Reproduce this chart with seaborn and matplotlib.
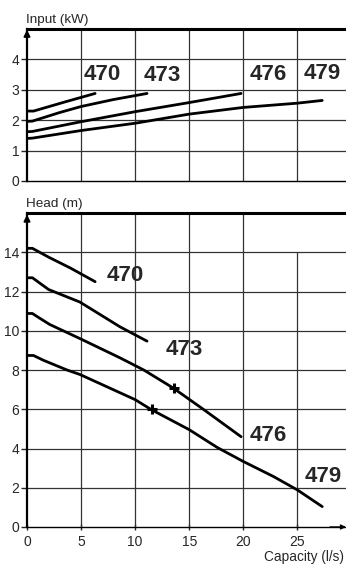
import numpy as np
import pandas as pd
import matplotlib
matplotlib.use('Agg')
import matplotlib.pyplot as plt
import seaborn as sns

# 数据
models = ['470', '473', '476', '479']

# Input (kW) 曲线
q_in_470 = [0, 0.6, 3.5, 6.3]
p_in_470 = [2.3, 2.3, 2.6, 2.88]
q_in_473 = [0, 0.5, 3, 5, 8, 11.1]
p_in_473 = [1.96, 1.97, 2.25, 2.45, 2.68, 2.88]
q_in_476 = [0, 0.5, 5, 10, 15, 19.8]
p_in_476 = [1.62, 1.63, 1.95, 2.28, 2.58, 2.88]
q_in_479 = [0, 0.5, 5, 10, 15, 20, 25, 27.3]
p_in_479 = [1.40, 1.41, 1.66, 1.90, 2.20, 2.42, 2.56, 2.65]

# Head (m) 曲线
q_h_470 = [0, 0.5, 2, 4, 6.3]
h_470 = [14.2, 14.2, 13.75, 13.2, 12.5]
q_h_473 = [0, 0.5, 1, 2, 4.9, 8.6, 11.1]
h_473 = [12.7, 12.7, 12.5, 12.1, 11.46, 10.2, 9.47]
q_h_476 = [0, 0.5, 1, 2.1, 4.9, 8.6, 10.8, 13.5, 16.3, 19.8]
h_476 = [10.88, 10.88, 10.7, 10.32, 9.6, 8.62, 8.0, 7.09, 6.0, 4.6]
q_h_479 = [0, 0.6, 1.5, 3.7, 4.9, 10, 11.5, 15, 17.6, 20, 22.8, 25, 27.3]
h_479 = [8.74, 8.74, 8.5, 8.0, 7.77, 6.49, 5.98, 4.96, 4.05, 3.34, 2.57, 1.89, 1.04]

# 曲线上的标记点
mark_q = [13.6, 11.6]
mark_h = [7.09, 6.02]

# 型号标签位置
lab_in_q = [7.0, 12.5, 22.3, 27.3]
lab_in_p = [3.5, 3.47, 3.5, 3.55]
lab_h_q = [9.1, 14.5, 22.3, 27.4]
lab_h_h = [12.8, 9.05, 4.67, 2.57]

x_ticks = [0, 5, 10, 15, 20, 25]
in_ticks = [0, 1, 2, 3, 4]
h_ticks = [0, 2, 4, 6, 8, 10, 12, 14]

sns.set_style('white')
plt.rcParams['font.family'] = ['Liberation Sans', 'DejaVu Sans']

in_curves = [(q_in_470, p_in_470), (q_in_473, p_in_473),
             (q_in_476, p_in_476), (q_in_479, p_in_479)]
h_curves = [(q_h_470, h_470), (q_h_473, h_473),
            (q_h_476, h_476), (q_h_479, h_479)]

fig = plt.figure(figsize=(3.46, 5.64), dpi=100)
ax1 = fig.add_axes([27/346, 1 - 181/564, 1 - 27/346, (181 - 29)/564])
ax2 = fig.add_axes([27/346, 1 - 527/564, 1 - 27/346, (527 - 213)/564])

grid_kw = dict(color='#333333', lw=0.9, zorder=1)


def style_axis(ax, ymax, yticks):
    ax.set_xlim(0, 29.5)
    ax.set_ylim(0, ymax)
    ax.set_yticks(yticks)
    ax.set_xticks(x_ticks)
    ax.spines['right'].set_visible(False)
    ax.spines['top'].set_linewidth(2.2)
    ax.spines['left'].set_linewidth(1.6)
    ax.spines['bottom'].set_linewidth(1.0)
    for s in ['top', 'left', 'bottom']:
        ax.spines[s].set_color('black')
    ax.tick_params(axis='y', length=4, width=1, direction='out', left=True,
                   labelsize=10, pad=1.5)
    ax.set_xlabel('')
    ax.set_ylabel('')
    # 向上的箭头
    ax.annotate('', xy=(0, 0.995), xycoords='axes fraction',
                xytext=(0, 0.9), textcoords='axes fraction',
                arrowprops=dict(arrowstyle='-|>', color='black', lw=1.4,
                                mutation_scale=9, shrinkA=0, shrinkB=0))


# 上图: Input
for (q, p) in in_curves:
    sns.lineplot(x=q, y=p, ax=ax1, color='black', lw=2, sort=False, zorder=3)
for xv in x_ticks[1:]:
    ax1.axvline(xv, **grid_kw)
for yv in in_ticks[1:]:
    ax1.axhline(yv, **grid_kw)
style_axis(ax1, 5, in_ticks)
ax1.tick_params(axis='x', bottom=False, labelbottom=False)
for m, xq, yp in zip(models, lab_in_q, lab_in_p):
    ax1.text(xq, yp, m, fontsize=16, fontweight='bold', ha='center',
             va='center', zorder=4)
ax1.text(-0.003, 1.018, 'Input (kW)', transform=ax1.transAxes, fontsize=9.7,
         ha='left', va='bottom')

# 下图: Head
for (q, h) in h_curves:
    sns.lineplot(x=q, y=h, ax=ax2, color='black', lw=2, sort=False, zorder=3)
ax2.plot(mark_q, mark_h, ls='none', marker='+', ms=6.5, mew=2.2,
         color='black', zorder=4)
for xv in x_ticks[1:-1]:
    ax2.axvline(xv, **grid_kw)
ax2.axvline(25, ymax=14/16, **grid_kw)
for yv in h_ticks[1:]:
    ax2.axhline(yv, **grid_kw)
style_axis(ax2, 16, h_ticks)
ax2.tick_params(axis='x', bottom=True, length=4, width=1, direction='inout',
                labelsize=10, pad=4)
for m, xq, yh in zip(models, lab_h_q, lab_h_h):
    ax2.text(xq, yh, m, fontsize=16, fontweight='bold', ha='center',
             va='center', zorder=4)
ax2.text(-0.003, 1.01, 'Head (m)', transform=ax2.transAxes, fontsize=9.7,
         ha='left', va='bottom')
ax2.annotate('', xy=(1.0, 0), xycoords='axes fraction',
             xytext=(0.95, 0), textcoords='axes fraction',
             arrowprops=dict(arrowstyle='-|>', color='black', lw=1.0,
                             mutation_scale=7, shrinkA=0, shrinkB=0))
fig.text(344/346, 1 - 557/564, 'Capacity (l/s)', fontsize=9.8,
         ha='right', va='center')

fig.savefig('out.png', dpi=100)
